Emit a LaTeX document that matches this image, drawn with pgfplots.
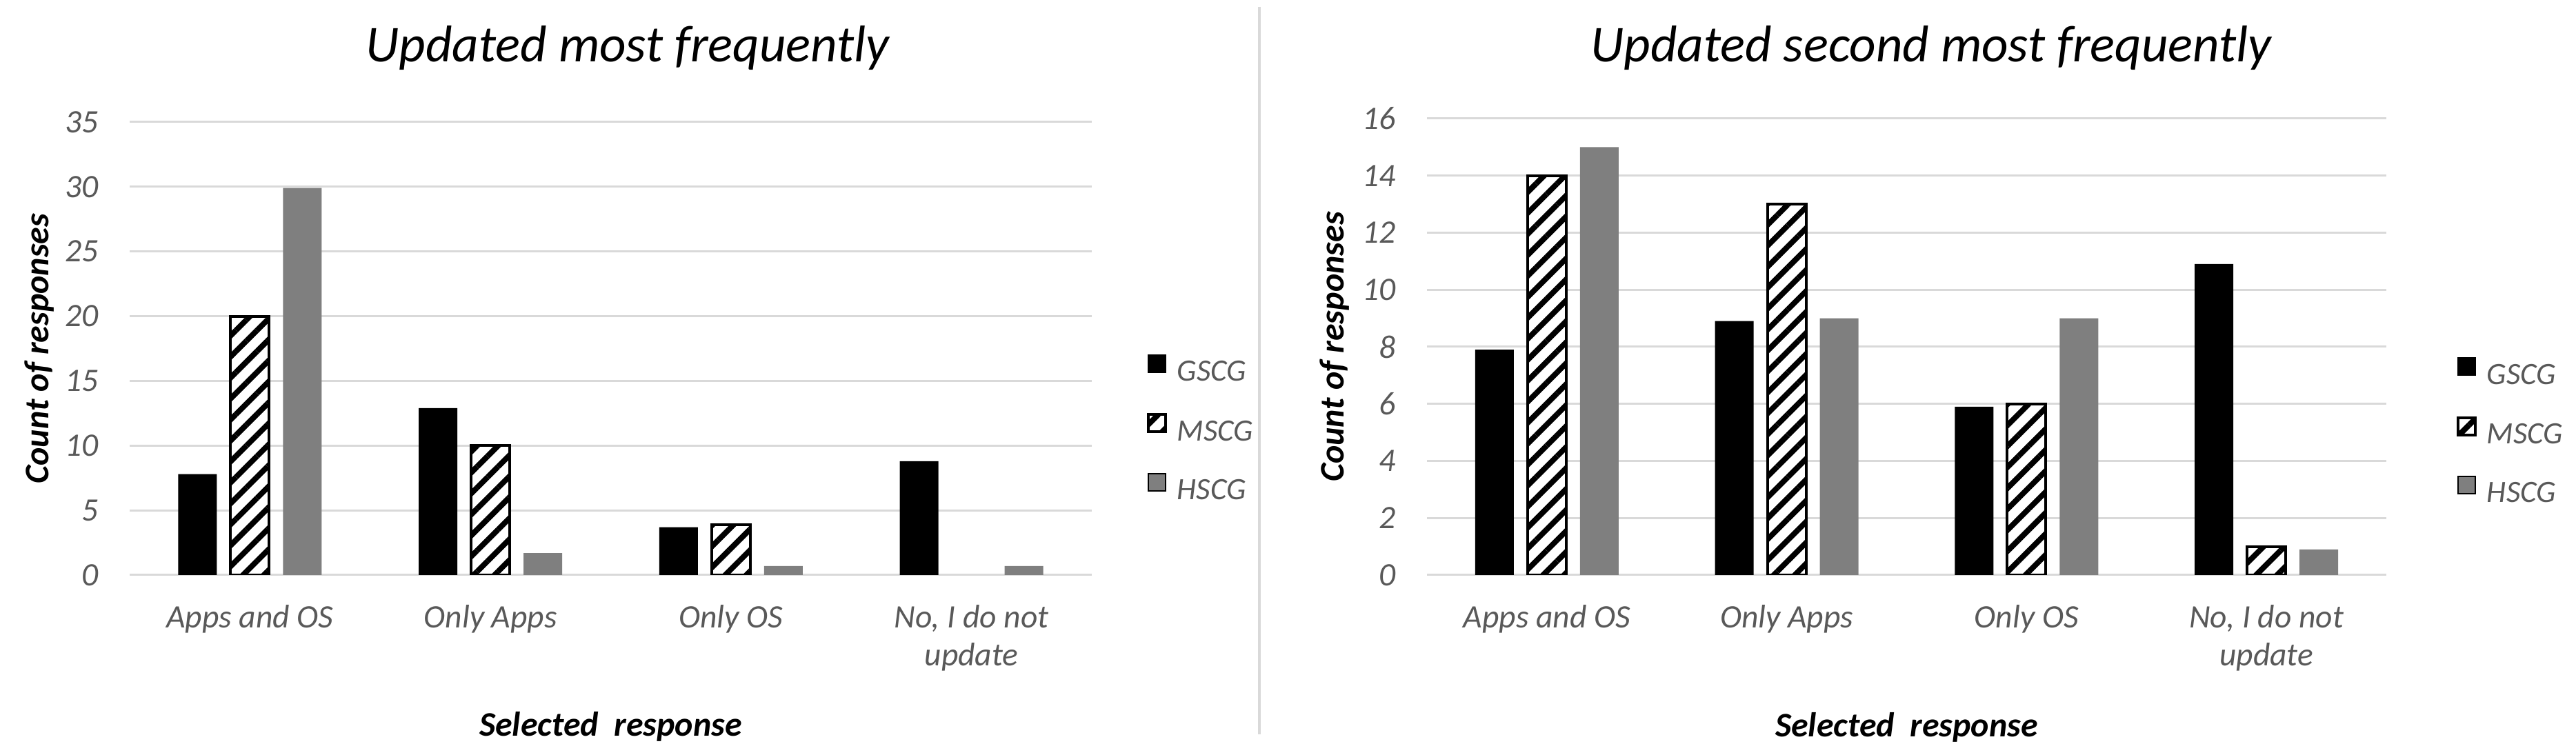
\documentclass[border=0pt]{standalone}
\usepackage{fontspec}
\setmainfont{Carlito}
\usepackage{pgfplots}
\pgfplotsset{compat=1.18}
\usetikzlibrary{patterns.meta}
\definecolor{gridgray}{HTML}{D9D9D9}
\definecolor{tickgray}{HTML}{595959}
\definecolor{hscg}{HTML}{7F7F7F}

\pgfplotsset{
  mybars/.style={
    ybar=4pt, bar width=11.2pt,
    scale only axis,
    xmin=-0.5, xmax=3.5, ymin=0,
    xtick={0,1,2,3},
    xticklabels={Apps and OS, Only Apps, Only OS, {No, I do not\\update}},
    axis line style={draw=none}, major tick length=0pt,
    ymajorgrids, grid style={gridgray, line width=0.6pt},
    /pgf/number format/assume math mode=true,
    tick label style={font=\fontsize{9.5}{11}\selectfont\itshape, text=tickgray},
    yticklabel style={anchor=east, inner sep=0pt, xshift=-8.8pt},
    xticklabel style={anchor=north, inner sep=0pt, yshift=-8.6pt, align=center},
    label style={font=\fontsize{10}{12}\selectfont\bfseries\itshape, text=black, inner sep=0pt},
    every axis title/.style={font=\fontsize{15}{18}\selectfont\itshape, text=black, anchor=base, inner sep=0pt},
    legend image code/.code={\draw[##1] (0pt,0.4pt) rectangle (5pt,5.4pt);},
    legend style={draw=none, fill=none, inner sep=0pt, outer sep=0pt,
      font=\fontsize{9}{10.8}\selectfont\itshape, text=tickgray,
      row sep=7.8pt, nodes={inner sep=0pt},
      /tikz/every odd column/.append style={column sep=3pt}},
    legend cell align=left,
  },
  gscg/.style={fill=black, draw=none},
  mscg/.style={fill=white, draw=black, line width=0.8pt,
    postaction={pattern={Lines[angle=45,distance=4.3pt,line width=1.6pt]}, pattern color=black}},
  hscg/.style={fill=hscg, draw=none},
}

\begin{document}
\begin{tikzpicture}
\path[use as bounding box] (0,0) rectangle (747pt,219pt);
\draw[gridgray, line width=0.8pt] (365.2pt,217pt) -- (365.2pt,6pt);

\begin{axis}[mybars,
  at={(37.6pt,52.2pt)}, anchor=south west,
  width=279pt, height=131.4pt,
  ymax=35, ytick={0,5,...,35},
  title={Updated most frequently},
  title style={at={(axis description cs:0.5176,1.1324)}},
  xlabel={Selected~~response},
  xlabel style={at={(axis description cs:0.5,-0.301)}, anchor=north},
  ylabel={Count of responses},
  ylabel style={at={(axis description cs:-0.0939,0.5)}, anchor=center},
  legend style={at={(axis description cs:1.0573,0.321)}, anchor=west},
]
\addplot[gscg] coordinates {(0,7.8) (1,12.9) (2,3.7) (3,8.8)};
\addplot[mscg] coordinates {(0,20) (1,10) (2,3.9)};
\addplot[hscg] coordinates {(0,29.9) (1,1.7) (2,0.7) (3,0.7)};
\legend{GSCG, MSCG, HSCG}
\end{axis}

\begin{axis}[mybars,
  at={(413.8pt,52.2pt)}, anchor=south west,
  width=278.2pt, height=132.4pt,
  ymax=16, ytick={0,2,...,16},
  title={Updated second most frequently},
  title style={at={(axis description cs:0.5255,1.124)}},
  xlabel={Selected~~response},
  xlabel style={at={(axis description cs:0.5,-0.299)}, anchor=north},
  ylabel={Count of responses},
  ylabel style={at={(axis description cs:-0.0963,0.5)}, anchor=center},
  legend style={at={(axis description cs:1.0733,0.312)}, anchor=west},
]
\addplot[gscg] coordinates {(0,7.9) (1,8.9) (2,5.9) (3,10.9)};
\addplot[mscg] coordinates {(0,14) (1,13) (2,6) (3,1)};
\addplot[hscg] coordinates {(0,15) (1,9) (2,9) (3,0.9)};
\legend{GSCG, MSCG, HSCG}
\end{axis}
\end{tikzpicture}
\end{document}
